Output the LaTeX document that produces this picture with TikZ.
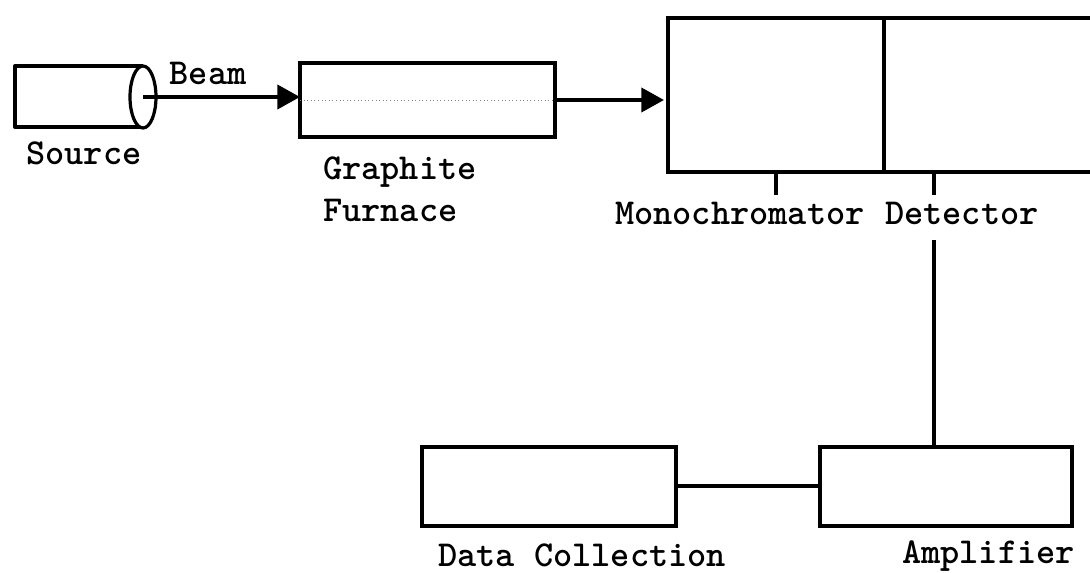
\documentclass[tikz,border=0pt]{standalone}
\usepackage{fontspec}
\newfontfamily\lbfont{lmmonolt10-bold}[Extension=.otf]
\usetikzlibrary{arrows.meta}
\begin{document}
\begin{tikzpicture}[x=0.75pt,y=-0.75pt,
  box/.style={draw,line width=3pt,inner sep=0pt,outer sep=0pt},
  lbl/.style={font=\lbfont\fontsize{27.4}{31.5}\selectfont,inner sep=0pt},
  conn/.style={line width=3pt},
  arr/.style={conn,-{Triangle[length=17pt,width=18pt]}}]
\useasboundingbox (0,0) rectangle (1090,573);
\clip (0,0) rectangle (1090,573);
% source cylinder
\coordinate (srcend) at (143,97);
\draw[conn,line join=round] (143,66) -- (15,66) -- (15,127) -- (143,127);
\draw[line width=2.4pt,fill=white] (srcend) ellipse [x radius=13, y radius=31];
% boxes
\node[box,minimum width=191.25pt,minimum height=55.5pt] (furnace) at (427.5,100) {};
\node[box,minimum width=162pt,minimum height=115.5pt] (mono) at (776,95) {};
\node[box,minimum width=169.5pt,minimum height=115.5pt] (det) at (997,95) {};
\node[box,minimum width=190.5pt,minimum height=59.25pt] (data) at (549,486.5) {};
\node[box,minimum width=189pt,minimum height=59.25pt] (amp) at (946,486.5) {};
% dotted beam inside furnace
\draw[gray,dotted,line width=0.7pt] (furnace.west) -- (furnace.east);
% connectors
\draw[arr] (srcend) -- (srcend -| furnace.west);
\draw[arr,shorten >=3pt] (furnace.east) -- (furnace.east -| mono.west);
\draw[conn] (mono.south) -- ++(0,23);
\path (det.south west) ++(50,0) coordinate (dtick);
\draw[conn] (dtick) -- ++(0,23);
\coordinate (dlow) at (934,240);
\draw[conn] (dlow) -- (dlow |- amp.north);
\draw[conn] (data.east) -- (amp.west);
% labels
\node[lbl] (lbeam) at (208,73) {Beam};
\node[lbl] (lsrc) at (84,153) {Source};
\node[lbl,anchor=west,align=left] (lfur) at (323,189) {Graphite\\Furnace};
\node[lbl,anchor=west] (lmono) at (615,213) {Monochromator};
\node[lbl,anchor=west] (ldet) at (885,213) {Detector};
\node[lbl,anchor=west] (ldata) at (438,555) {Data Collection};
\node[lbl,anchor=west] (lamp) at (902,556) {Amplifier};
\end{tikzpicture}
\end{document}
